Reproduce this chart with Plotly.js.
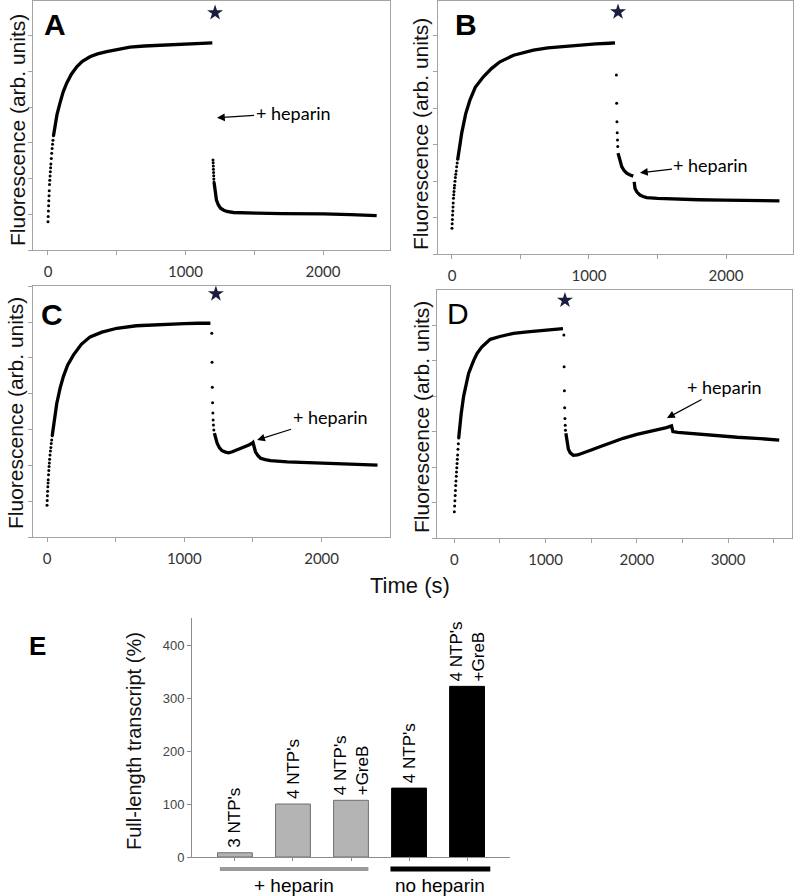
<!DOCTYPE html>
<html><head><meta charset="utf-8">
<script src="https://cdn.plot.ly/plotly-3.0.1.min.js"></script>
<style>html,body{margin:0;padding:0;background:#fff}#chart{width:800px;height:896px}</style>
</head><body><div id="chart"></div>
<script>
// ---------- Panel A ----------
const aDotT = [0,1.5,3,4.5,6,7.5,9,11,13,15,17,19,21,24,27,30,33,36,40, 1200,1201,1202,1203,1204,1205,1206,1207];
const aDotV = [0.79,0.94,1.09,1.24,1.38,1.52,1.66,1.83,1.95,2.07,2.19,2.30,2.41,2.56,2.71,2.84,2.96,3.07,3.20, 2.52,2.44,2.35,2.26,2.17,2.08,1.99,1.90];
const aLineT = [40,51,65,87,110,136,170,209,250,305,360,427,500,596,700,836,950,1050,1150,1195, null, 1208,1215,1225,1239,1255,1275,1300,1348,1400,1518,1700,1850,2002,2200,2390];
const aLineV = [3.20,3.45,3.78,4.11,4.42,4.67,4.92,5.13,5.28,5.41,5.49,5.55,5.61,5.68,5.71,5.74,5.76,5.77,5.79,5.80, null, 1.88,1.59,1.40,1.26,1.17,1.12,1.08,1.05,1.04,1.03,1.02,1.02,1.01,0.99,0.96];
// ---------- Panel B ----------
const bDotT = [0,1.5,3,4.5,6,7.5,9,11,13,15,17,19,22,25,28,31,34,38,42, 1200,1202,1204,1206,1208,1210];
const bDotV = [0.71,0.83,0.95,1.07,1.18,1.29,1.40,1.53,1.63,1.72,1.81,1.89,2.00,2.10,2.19,2.28,2.40,2.50,2.60, 4.92,4.14,3.63,3.33,3.13,2.95];
const bLineT = [42,52,71,100,131,170,229,290,350,450,594,700,837,950,1050,1150,1190, null, 1212,1225,1239,1255,1275,1300,1323, null, 1330,1336,1350,1372,1395,1421,1500,1615,1800,1980,2200,2390];
const bLineV = [2.60,2.85,3.32,3.85,4.23,4.58,4.87,5.10,5.28,5.46,5.60,5.66,5.71,5.75,5.77,5.79,5.80, null, 2.77,2.58,2.40,2.30,2.22,2.17,2.14, null, 1.98,1.80,1.70,1.62,1.58,1.55,1.53,1.51,1.49,1.48,1.47,1.46];
// ---------- Panel C ----------
const cDotT = [0,1.5,3,4.5,6,7.5,9,11,13,15,17,19,22,25,28,31,34,38, 1200,1202,1204,1206,1208,1210,1212,1215];
const cDotV = [0.89,1.02,1.15,1.28,1.40,1.51,1.60,1.74,1.86,1.97,2.07,2.17,2.29,2.40,2.50,2.61,2.71,2.83, 5.69,4.88,4.18,3.75,3.46,3.27,3.13,2.99];
const cLineT = [38,50,71,95,119,150,192,250,314,400,509,650,874,1000,1100,1190, null, 1219,1230,1239,1255,1275,1300,1323,1350,1384,1415,1445,1470,1494,1500,1510,1518,1535,1555,1590,1628,1750,1896,2000,2139,2300,2407];
const cLineV = [2.83,3.20,3.73,4.15,4.48,4.80,5.08,5.38,5.59,5.72,5.83,5.90,5.95,5.96,5.97,5.97, null, 2.90,2.72,2.62,2.50,2.41,2.37,2.35,2.38,2.43,2.48,2.52,2.57,2.62,2.64,2.50,2.38,2.28,2.20,2.16,2.13,2.10,2.08,2.06,2.04,2.02,2.01];
// ---------- Panel D ----------
const dDotT = [0,3,6,9,12,15,18,21,24,27,30,33,36,40,44,48, 1200,1203,1206,1209,1212,1215,1218];
const dDotV = [0.74,0.90,1.05,1.20,1.34,1.48,1.61,1.74,1.86,1.98,2.10,2.22,2.34,2.50,2.66,2.82, 5.72,4.83,4.15,3.67,3.37,3.18,3.04];
const dLineT = [48,60,75,102,130,156,211,248,300,393,500,648,800,940,1050,1158,1190, null, 1222,1235,1250,1270,1304,1350,1413,1500,1595,1700,1850,2000,2106,2200,2325,2380, 2395,2450,2579,2750,2943,3100,3308,3450,3560];
const dLineV = [2.82,3.15,3.50,4.00,4.38,4.64,5.00,5.20,5.38,5.60,5.68,5.77,5.81,5.84,5.87,5.89,5.90, null, 2.95,2.68,2.50,2.40,2.33,2.34,2.39,2.48,2.57,2.67,2.81,2.92,2.98,3.04,3.11,3.16, 3.00,2.98,2.95,2.91,2.87,2.84,2.81,2.78,2.76];

// stars (time of NTP addition) and heparin arrows
const panelLetters = ['A','B','C','D'];
const starT = [1215, 1212, 1230, 1212];
const starV = [6.64, 6.65, 6.79, 6.70];
const hepT = [1229, 1372, 1530, 2330];
const hepV = [3.70, 2.23, 2.71, 3.38];
const hepLabel = '+ heparin';
const yTitle = 'Fluorescence (arb. units)';
const xTitle = 'Time (s)';

// ---------- Panel E ----------
const eCats = [0,1,2,3,4];
const eLabels = ["3 NTP's", "4 NTP's", "4 NTP's<br>+GreB", "4 NTP's", "4 NTP's<br>+GreB"];
const eValues = [8, 100, 107, 130, 322];
const eGroups = ['+ heparin', 'no heparin'];
const eYTitle = 'Full-length transcript (%)';
const eTicks = [0,100,200,300,400];

// ---------- layout geometry (px) ----------
const W = 800, H = 896;
const boxes = [
  {l:33, r:390, t:1, b:250, xr:[-109,2487], yr:[0,6.97], dt:1000},
  {l:438, r:793, t:1, b:254, xr:[-102,2489], yr:[0,6.95], dt:1000},
  {l:33, r:390, t:286, b:537, xr:[-102,2498], yr:[0,7.01], dt:1000},
  {l:437, r:792, t:290, b:538, xr:[-190,3700], yr:[0,6.99], dt:1000}
];
const letterPos = [[55,24,true],[466,24,true],[52,314,true],[458,313,false]];
const titlePos = [[17,130],[421,134],[15,413],[421,417]];
const hepOff = [[76,-5],[71,-8],[73,-23],[58,-31]];
const series = [[aDotT,aDotV,aLineT,aLineV],[bDotT,bDotV,bLineT,bLineV],[cDotT,cDotV,cLineT,cLineV],[dDotT,dDotV,dLineT,dLineV]];

const gray = '#a3a3a3';
const px = x => x / W, py = y => 1 - y / H;
const traces = [], annotations = [], shapes = [];
const layout = {
  width: W, height: H, margin:{l:0,r:0,t:0,b:0}, showlegend:false,
  paper_bgcolor:'#fff', plot_bgcolor:'#fff',
  font:{family:'Liberation Sans, Arial, sans-serif', color:'#000'}
};

boxes.forEach((bx, i) => {
  const n = i + 1, sfx = n === 1 ? '' : String(n);
  layout['xaxis' + sfx] = {
    domain:[px(bx.l), px(bx.r)], range:bx.xr, anchor:'y' + sfx,
    showline:true, mirror:true, linecolor:gray, linewidth:1,
    zeroline:false, showgrid:false, ticks:'outside', ticklen:4, tickcolor:gray,
    tick0:0, dtick:bx.dt, ticklabelstandoff:4,
    tickfont:{family:'Lato, Liberation Sans, sans-serif', size:15, color:'#333'},
    minor:{dtick:bx.dt/2, tick0:0, ticks:'outside', ticklen:4, tickcolor:gray, showgrid:false}
  };
  layout['yaxis' + sfx] = {
    domain:[py(bx.b), py(bx.t)], range:bx.yr, anchor:'x' + sfx,
    showline:true, mirror:true, linecolor:gray, linewidth:1,
    zeroline:false, showgrid:false, ticks:'outside', ticklen:4, tickcolor:gray,
    tick0:0, dtick:1, showticklabels:false
  };
  const [dT, dV, lT, lV] = series[i];
  traces.push({type:'scatter', mode:'lines', x:lT, y:lV, xaxis:'x'+sfx, yaxis:'y'+sfx,
    connectgaps:false, line:{color:'#000', width:3.3}, hoverinfo:'skip'});
  traces.push({type:'scatter', mode:'markers', x:dT, y:dV, xaxis:'x'+sfx, yaxis:'y'+sfx,
    marker:{color:'#000', size:3}, hoverinfo:'skip'});
  traces.push({type:'scatter', mode:'markers', x:[starT[i]], y:[starV[i]], xaxis:'x'+sfx, yaxis:'y'+sfx,
    marker:{color:'#1c1c3e', size:12, symbol:'star'}, hoverinfo:'skip', cliponaxis:false});
  annotations.push({xref:'x'+sfx, yref:'y'+sfx, x:hepT[i], y:hepV[i], ax:hepOff[i][0], ay:hepOff[i][1],
    text:hepLabel, showarrow:true, arrowhead:2, arrowsize:1.3, arrowwidth:1.2, arrowcolor:'#000',
    font:{family:'Lato, Open Sans, sans-serif', size:18, color:'#000'}});
  annotations.push({xref:'paper', yref:'paper', x:px(letterPos[i][0]), y:py(letterPos[i][1]),
    xanchor:'center', yanchor:'middle', showarrow:false,
    text: letterPos[i][2] ? '<b>' + panelLetters[i] + '</b>' : panelLetters[i],
    font:{family:'Liberation Sans, Arial, sans-serif', size:30, color:'#000'}});
  annotations.push({xref:'paper', yref:'paper', x:px(titlePos[i][0]), y:py(titlePos[i][1]),
    xanchor:'center', yanchor:'middle', showarrow:false, textangle:-90, text:yTitle,
    font:{family:'Liberation Sans, Arial, sans-serif', size:21, color:'#111'}});
});

annotations.push({xref:'paper', yref:'paper', x:px(410), y:py(585), xanchor:'center', yanchor:'middle',
  showarrow:false, text:xTitle, font:{family:'Liberation Sans, Arial, sans-serif', size:22, color:'#111'}});

// ---------- Panel E ----------
layout.xaxis5 = {domain:[px(192), px(510)], range:[-0.74, 4.74], anchor:'y5',
  showline:true, linecolor:'#8c8c8c', linewidth:1, zeroline:false, showgrid:false,
  tickvals:eCats, ticks:'outside', ticklen:3, tickcolor:'#8c8c8c', showticklabels:false};
layout.yaxis5 = {domain:[py(857), py(618)], range:[0, 451], anchor:'x5',
  showline:true, linecolor:'#8c8c8c', linewidth:1, zeroline:false, showgrid:false,
  tickvals:eTicks, ticks:'outside', ticklen:4, tickcolor:'#8c8c8c',
  tickfont:{family:'Liberation Sans, Arial, sans-serif', size:13, color:'#444'}};
traces.push({type:'bar', x:eCats, y:eValues, xaxis:'x5', yaxis:'y5', width:0.6,
  marker:{color:eCats.map(c => c < 3 ? '#b4b4b4' : '#000'),
          line:{color:eCats.map(c => c < 3 ? '#6f6f6f' : '#000'), width:1}}, hoverinfo:'skip'});
eCats.forEach((c, i) => {
  annotations.push({xref:'x5', yref:'y5', x:c, y:eValues[i], yshift:3, xanchor:'center', yanchor:'bottom',
    textangle:-90, align:'left', showarrow:false, text:eLabels[i],
    font:{family:'Liberation Sans, Arial, sans-serif', size:17, color:'#000'}});
});
// group bars under the axis
const grpX = [[-0.26, 2.3], [2.68, 4.4]];
const grpCol = ['#9a9a9a', '#000'];
const grpW = [4, 5];
grpX.forEach((g, i) => {
  shapes.push({type:'line', xref:'x5', yref:'paper', x0:g[0], x1:g[1], y0:py(869), y1:py(869),
    line:{color:grpCol[i], width:grpW[i]}});
  annotations.push({xref:'x5', yref:'paper', x:(g[0]+g[1])/2, y:py(885), xanchor:'center', yanchor:'middle',
    showarrow:false, text:eGroups[i], font:{family:'Liberation Sans, Arial, sans-serif', size:19, color:'#000'}});
});
annotations.push({xref:'paper', yref:'paper', x:px(134), y:py(741), xanchor:'center', yanchor:'middle',
  textangle:-90, showarrow:false, text:eYTitle, font:{family:'Liberation Sans, Arial, sans-serif', size:20, color:'#111'}});
annotations.push({xref:'paper', yref:'paper', x:px(37), y:py(646), xanchor:'center', yanchor:'middle',
  showarrow:false, text:'<b>E</b>', font:{family:'Liberation Sans, Arial, sans-serif', size:26, color:'#000'}});

layout.annotations = annotations;
layout.shapes = shapes;
Plotly.newPlot('chart', traces, layout, {staticPlot:true, displayModeBar:false});
</script></body></html>
